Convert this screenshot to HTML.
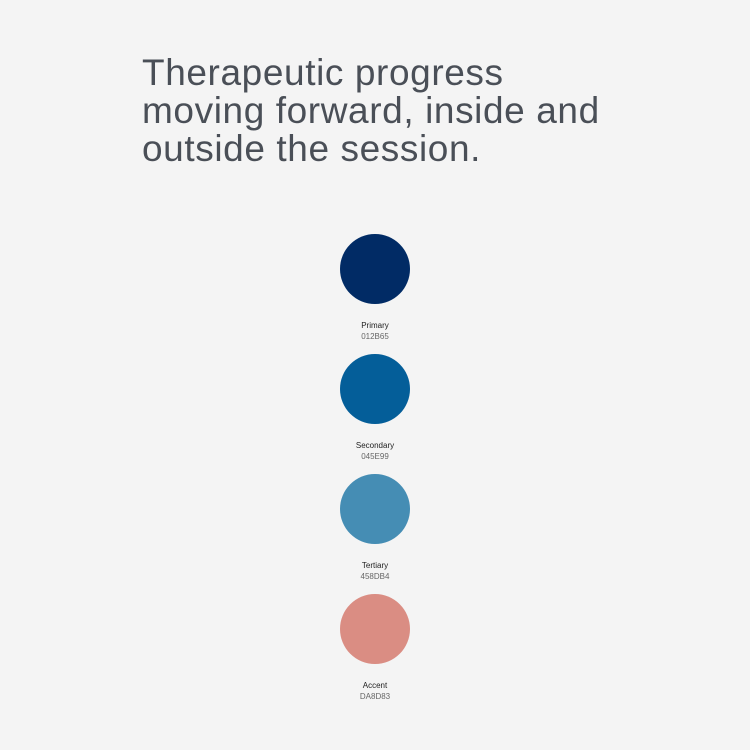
<!DOCTYPE html>
<html><head><meta charset="utf-8"><style>
body{margin:0;width:750px;height:750px;background:#f4f4f4;font-family:"Liberation Sans",sans-serif;overflow:hidden;position:relative}
.t{position:absolute;left:142px;font-size:37px;letter-spacing:0.6px;color:#4a4f57;white-space:nowrap;line-height:38px}
.sw{position:absolute;left:340px;width:70px;height:70px;border-radius:50%}
.n{position:absolute;left:300px;width:150px;text-align:center;font-size:8px;color:#222}
.h{position:absolute;left:300px;width:150px;text-align:center;font-size:8px;color:#666}
</style></head><body>
<div>
<div class="t" style="top:54px">Therapeutic progress</div>
<div class="t" style="top:92px">moving forward, inside and</div>
<div class="t" style="top:130px">outside the session.</div>
</div>
<div id="p"></div>
<script>
const names=["Primary","Secondary","Tertiary","Accent"];
const hexes=["012B65","045E99","458DB4","DA8D83"];
const p=document.getElementById('p');
names.forEach((nm,i)=>{
 const y=234+i*120;
 const c=document.createElement('div');c.className='sw';c.style.top=y+'px';c.style.background='#'+hexes[i];
 
 
 p.appendChild(c);
 const a=document.createElement('div');a.className='n';a.style.top=(y+87)+'px';a.textContent=nm;
 
 
 p.appendChild(a);
 const b=document.createElement('div');b.className='h';b.style.top=(y+98)+'px';b.textContent=hexes[i];
 
 
 p.appendChild(b);
});
</script>
</body></html>
